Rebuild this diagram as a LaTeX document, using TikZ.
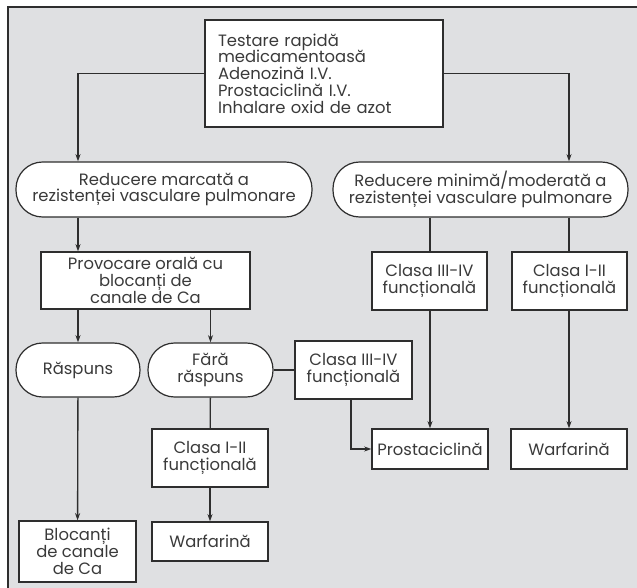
\documentclass[tikz,border=0pt]{standalone}
\usepackage{fontspec}
\setmainfont{Poppins}
\usetikzlibrary{arrows.meta}
\definecolor{panel}{HTML}{DFE0E2}
\definecolor{ink}{HTML}{2E2E2E}
\definecolor{txt}{HTML}{3A3A3A}
\begin{document}
\begin{tikzpicture}[x=0.75pt,y=-0.75pt,
  font=\fontsize{12.3}{12.6}\selectfont,
  box/.style={draw=ink, fill=white, line width=0.9pt, text=txt, align=center, inner sep=0pt},
  pill/.style={box, rounded corners=20pt},
  sz/.style 2 args={minimum width=#1*0.75pt, minimum height=#2*0.75pt},
  link/.style={draw=ink, line width=1pt},
  arr/.style={link, -{Stealth[length=5.5pt,width=3.8pt]}}
]
\useasboundingbox (0,0) rectangle (637,588);
% grey panel with its frame
\fill[panel] (8,7) rectangle (637,588);
\draw[ink, line width=0.8pt] (8,588) -- (8,7) -- (637,7);

% nodes
\node[box, sz={238}{107}, text width=159pt, align=left] (top) at (324,73.5)
  {Testare rapidă\\medicamentoasă\\Adenozină I.V.\\Prostaciclină I.V.\\Inhalare oxid de azot};
\node[pill, sz={296}{55}] (rL) at (164,189.5) {Reducere marcată a\\rezistenței vasculare pulmonare};
\node[pill, sz={295}{55}] (rR) at (480.5,189.5) {Reducere minimă/moderată a\\rezistenței vasculare pulmonare};
\node[box, sz={209}{57}] (prov) at (145.5,280.5) {Provocare orală cu\\blocanți de\\canale de Ca};
\node[box, sz={115}{58}] (c34R) at (429.5,281) {Clasa III-IV\\funcțională};
\node[box, sz={115}{58}] (c12R) at (569.5,281) {Clasa I-II\\funcțională};
\node[pill, sz={124}{54}] (rasp) at (78,370) {Răspuns};
\node[pill, sz={125}{54}] (fara) at (210.5,370) {Fără\\răspuns};
\node[box, sz={117}{58}] (c34M) at (353.5,370) {Clasa III-IV\\funcțională};
\node[box, sz={116}{58}] (c12L) at (210,458) {Clasa I-II\\funcțională};
\node[box, sz={116}{40}] (prost) at (430,449) {Prostaciclină};
\node[box, sz={116}{40}] (warfR) at (569,449) {Warfarină};
\node[box, sz={117}{61}] (bloc) at (77.5,551.5) {Blocanți\\de canale\\de Ca};
\node[box, sz={116}{39}] (warfL) at (210,541.5) {Warfarină};

% connectors
\draw[arr] (top.west) -| (rL.north -| rasp);
\draw[arr] (top.east) -| (rR.north -| warfR);
\draw[arr] (rL.south -| rasp) -- (prov.north -| rasp);
\draw[arr] (prov.south -| rasp) -- (rasp);
\draw[arr] (prov.south -| fara) -- (fara);
\draw[link] (rR.south -| prost) -- (c34R.north -| prost);
\draw[link] (rR.south -| warfR) -- (c12R.north -| warfR);
\draw[arr] (c34R.south -| prost) -- (prost);
\draw[arr] (c12R.south -| warfR) -- (warfR);
\draw[link] (fara) -- (c34M);
\draw[link] (fara) -- (c12L);
\draw[arr] (c12L) -- (warfL);
\draw[arr] (rasp) -- (bloc);
\draw[arr] ([xshift=-1.9pt]c34M.south) |- (prost.west);
\end{tikzpicture}
\end{document}
